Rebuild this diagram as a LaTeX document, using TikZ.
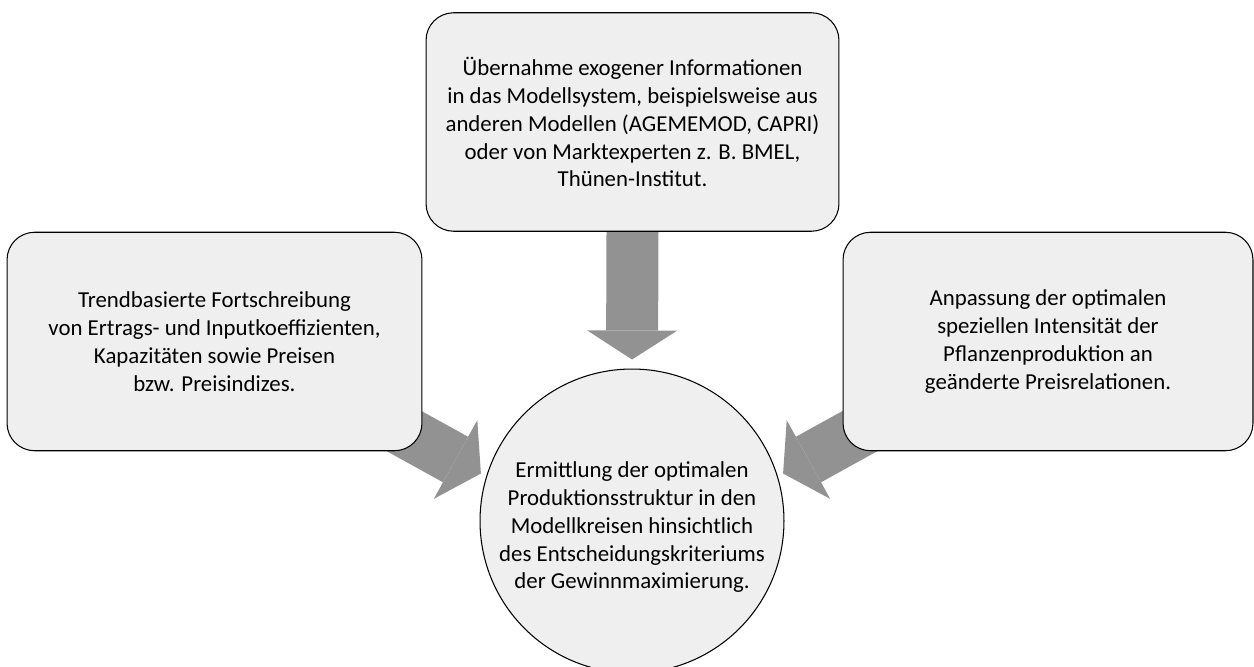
\documentclass[tikz,border=0pt]{standalone}
\usepackage{fontspec}
\setmainfont{Carlito}
\usetikzlibrary{arrows.meta,backgrounds}
\definecolor{boxgrau}{RGB}{239,239,239}
\definecolor{pfeilgrau}{RGB}{146,146,146}
\begin{document}
\begin{tikzpicture}[x=0.02cm,y=-0.02cm]
	\tikzstyle{kasten}=[draw,line width=0.6pt,fill=boxgrau,rounded corners=0.55cm,align=center,inner sep=0pt,minimum height=4.37cm,font=\fontsize{13}{15.9}\selectfont]
	\tikzstyle{kreis}=[draw,circle,line width=0.6pt,fill=boxgrau,align=center,inner sep=0pt,minimum size=6.08cm,font=\fontsize{13}{15.9}\selectfont]
	\tikzstyle{pfeil}=[draw=pfeilgrau,line width=1.04cm,-{Triangle[width=1.8cm,length=0.58cm,line width=0pt]}]
	\useasboundingbox (0,0) rectangle (1254,666);
	\node[kasten,minimum width=8.26cm] (oben) at (632.5,122) {Übernahme exogener Informationen\\in das Modellsystem, beispielsweise aus\\anderen Modellen (AGEMEMOD, CAPRI)\\oder von Marktexperten z. B. BMEL,\\Thünen-Institut.}; % oben
	\node[kasten,minimum width=8.3cm] (links) at (214.5,341.5) {Trendbasierte Fortschreibung\\von Ertrags- und Inputkoeffizienten,\\Kapazitäten sowie Preisen\\bzw. Preisindizes.}; % links
	\node[kasten,minimum width=8.2cm] (rechts) at (1048,341.5) {Anpassung der optimalen\\speziellen Intensität der\\Pflanzenproduktion an\\geänderte Preisrelationen.}; % rechts
	\node[kreis] (mitte) at (632,521) {\rule{0pt}{16pt}Ermittlung der optimalen\\Produktionsstruktur in den\\Modellkreisen hinsichtlich\\des Entscheidungskriteriums\\der Gewinnmaximierung.}; % Mitte
	\begin{pgfonlayer}{background}
		\draw[pfeil,shorten >=0.18cm] (oben.south) -- (mitte.north);
		\draw[pfeil,shorten >=0.12cm] ([shift={(-67,-47)}]links.south east) -- (mitte.163);
		\draw[pfeil,shorten >=0.12cm] ([shift={(66,-47)}]rechts.south west) -- (mitte.17);
	\end{pgfonlayer}
\end{tikzpicture}
\end{document}
